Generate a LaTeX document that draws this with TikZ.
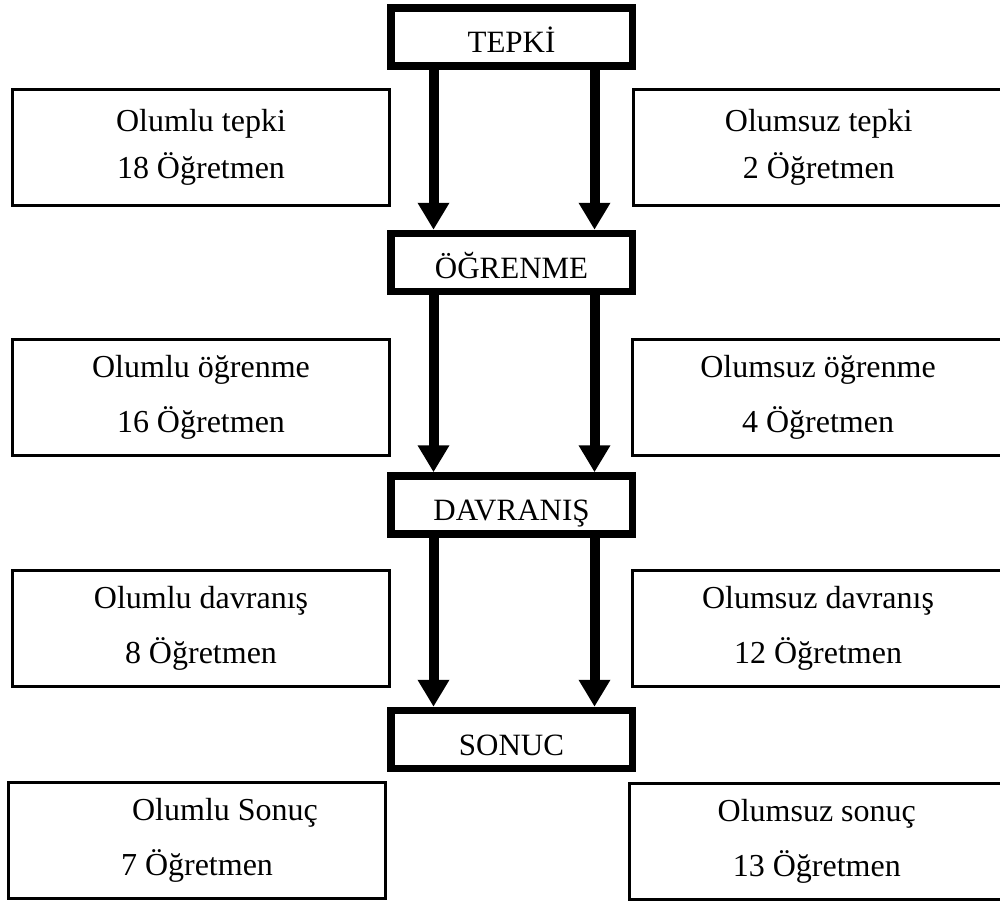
\documentclass[tikz,border=0pt]{standalone}
\usepackage{fontspec}
\setmainfont{Liberation Serif}
\usetikzlibrary{arrows.meta}

\begin{document}
\begin{tikzpicture}[
  x=1pt, y=-1pt,
  font=\fontsize{31}{47}\selectfont,
  stage/.style={draw=black, line width=7.5pt, minimum width=241.5pt, minimum height=58pt, inner sep=0pt, text height=31pt, text depth=0pt},
  side/.style={draw=black, line width=3pt, minimum height=116pt, inner sep=0pt, align=center, font=\fontsize{32}{47}\selectfont},
  flow/.style={-{Triangle[width=30pt,length=27pt]}, line width=10pt, draw=black},
]
\useasboundingbox (0,0) rectangle (1000,904);

% middle column
\node[stage] (tepki) at (511.5,37) {TEPKİ};
\node[stage] (ogrenme) at (511.5,262.5) {ÖĞRENME};
\node[stage] (davranis) at (511.5,505) {DAVRANIŞ};
\node[stage] (sonuc) at (511.5,739.5) {SONUC};

% left and right boxes
\node[side, minimum width=377pt] (olumlutepki) at (201,147.5) {Olumlu tepki\\18 Öğretmen};
\node[side, minimum width=370.5pt] (olumsuztepki) at (818.75,147.5) {Olumsuz tepki\\2 Öğretmen};
\node[side, minimum width=377pt] (olumluogrenme) at (201,397) {Olumlu öğrenme\\[8pt]16 Öğretmen};
\node[side, minimum width=372pt] (olumsuzogrenme) at (818,397) {Olumsuz öğrenme\\[8pt]4 Öğretmen};
\node[side, minimum width=377pt] (olumludavranis) at (201,628) {Olumlu davranış\\[8pt]8 Öğretmen};
\node[side, minimum width=372pt] (olumsuzdavranis) at (818,628.5) {Olumsuz davranış\\[8pt]12 Öğretmen};
\node[side, minimum width=377pt] (olumlusonuc) at (197,840.5) {\hspace*{56pt}Olumlu Sonuç\\[8pt]7 Öğretmen};
\node[side, minimum width=374.5pt] (olumsuzsonuc) at (816.75,841) {Olumsuz sonuç\\[8pt]13 Öğretmen};

\draw[flow] ([xshift=-78pt]tepki.south) -- ([xshift=-78pt]ogrenme.north);
\draw[flow] ([xshift=83pt]tepki.south) -- ([xshift=83pt]ogrenme.north);
\draw[flow] ([xshift=-78pt]ogrenme.south) -- ([xshift=-78pt]davranis.north);
\draw[flow] ([xshift=83pt]ogrenme.south) -- ([xshift=83pt]davranis.north);
\draw[flow] ([xshift=-78pt]davranis.south) -- ([xshift=-78pt]sonuc.north);
\draw[flow] ([xshift=83pt]davranis.south) -- ([xshift=83pt]sonuc.north);
\end{tikzpicture}
\end{document}
